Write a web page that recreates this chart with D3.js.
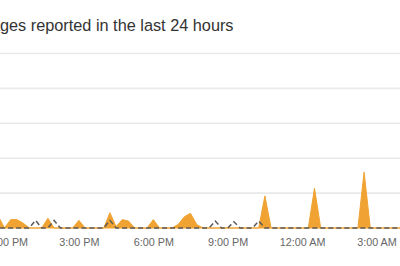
<!DOCTYPE html>
<html>
<head>
<meta charset="utf-8">
<script src="https://cdn.jsdelivr.net/npm/d3@7"></script>
<style>
  html, body { margin: 0; padding: 0; background: #fff; overflow: hidden; }
  svg { display: block; }
</style>
</head>
<body>
<svg id="chart" width="400" height="266"></svg>
<script>
// ---- data (15-minute intervals, index -2 .. 64 relative to 12:00 PM) ----
const titleText = "outages reported in the last 24 hours";
const startIndex = -2;
const stepMinutes = 15;
const reports = [
  0.5, 1.7, 0, 1.2, 1.2, 0.7, 0, 0, 0, 1.4,
  0, 0, 0, 0, 1.1, 0, 0, 0, 0, 2.2,
  0.2, 1.2, 1.0, 0, 0, 0, 1.2, 0, 0, 0,
  0.5, 1.6, 2.1, 0.5, 0, 0, 0, 0, 0, 0,
  0, 0, 0, 0, 4.6, 0, 0, 0, 0, 0,
  0, 0, 5.7, 0, 0, 0, 0, 0, 0, 0,
  8.0, 0, 0, 0, 0, 0, 0
];
const baseline = [
  0, 0, 0, 0, 0, 0, 0, 1.1, 0, 0,
  1.1, 0, 0, 0, 0, 0, 0, 0, 0, 1.1,
  0, 0, 0, 0, 0, 0, 0, 0, 0, 0,
  0, 0, 0, 0, 0, 0, 1.0, 0, 0, 0.9,
  0, 0, 0, 1.0, 0, 0, 0, 0, 0, 0,
  0, 0, 0, 0, 0, 0, 0, 0, 0, 0,
  0, 0, 0, 0, 0, 0, 0
];
const yTicks = [0, 5, 10, 15, 20, 25];
const tickLabels = ["12:00 PM", "3:00 PM", "6:00 PM", "9:00 PM", "12:00 AM", "3:00 AM"];

// ---- scales ----
const t0 = new Date(2024, 0, 1, 12, 0);
const timeAt = i => new Date(t0.getTime() + (startIndex + i) * stepMinutes * 60000);
const rows = reports.map((v, i) => ({ t: timeAt(i), v, b: baseline[i] }));

const x = d3.scaleTime()
  .domain([t0, new Date(2024, 0, 2, 3, 0)])
  .range([4.5, 376.5]);
const y = d3.scaleLinear().domain([0, 25]).range([228, 53.5]);

const svg = d3.select("#chart");

// title
const title = svg.append("text")
  .attr("y", 31)
  .attr("font-family", "Liberation Sans, Arial, sans-serif")
  .attr("font-size", 16.3)
  .attr("fill", "#333")
  .text(titleText);
const prefixW = title.node().getSubStringLength(0, 4);
title.attr("x", -prefixW);

// gridlines
svg.append("g").selectAll("line")
  .data(yTicks.filter(d => d > 0))
  .join("line")
  .attr("x1", 0).attr("x2", 400)
  .attr("y1", d => y(d)).attr("y2", d => y(d))
  .attr("stroke", "#e9e9e9")
  .attr("stroke-width", 1.6);

// reports area
const area = d3.area().x(d => x(d.t)).y0(y(0)).y1(d => y(d.v));
svg.append("path")
  .datum(rows)
  .attr("d", area)
  .attr("fill", "#f0a332")
  .attr("stroke", "#f0a332")
  .attr("stroke-width", 1)
  .attr("stroke-linejoin", "round");

// baseline dashed line
const bline = d3.line().x(d => x(d.t)).y(d => y(d.b));
svg.append("path")
  .datum(rows)
  .attr("d", bline)
  .attr("fill", "none")
  .attr("stroke", "#5a5a5a")
  .attr("stroke-width", 1.5)
  .attr("stroke-dasharray", "5,3");

// x axis
const tickDates = tickLabels.map((_, i) => new Date(t0.getTime() + i * 3 * 3600000));
const xAxis = d3.axisBottom(x)
  .tickValues(tickDates)
  .tickFormat((d, i) => tickLabels[i])
  .tickSize(0)
  .tickPadding(0);
const gx = svg.append("g")
  .attr("transform", "translate(0,238)")
  .call(xAxis);
gx.select(".domain").remove();
gx.selectAll("text")
  .attr("font-family", "Liberation Sans, Arial, sans-serif")
  .attr("font-size", 10.8)
  .attr("fill", "#666");
</script>
</body>
</html>
